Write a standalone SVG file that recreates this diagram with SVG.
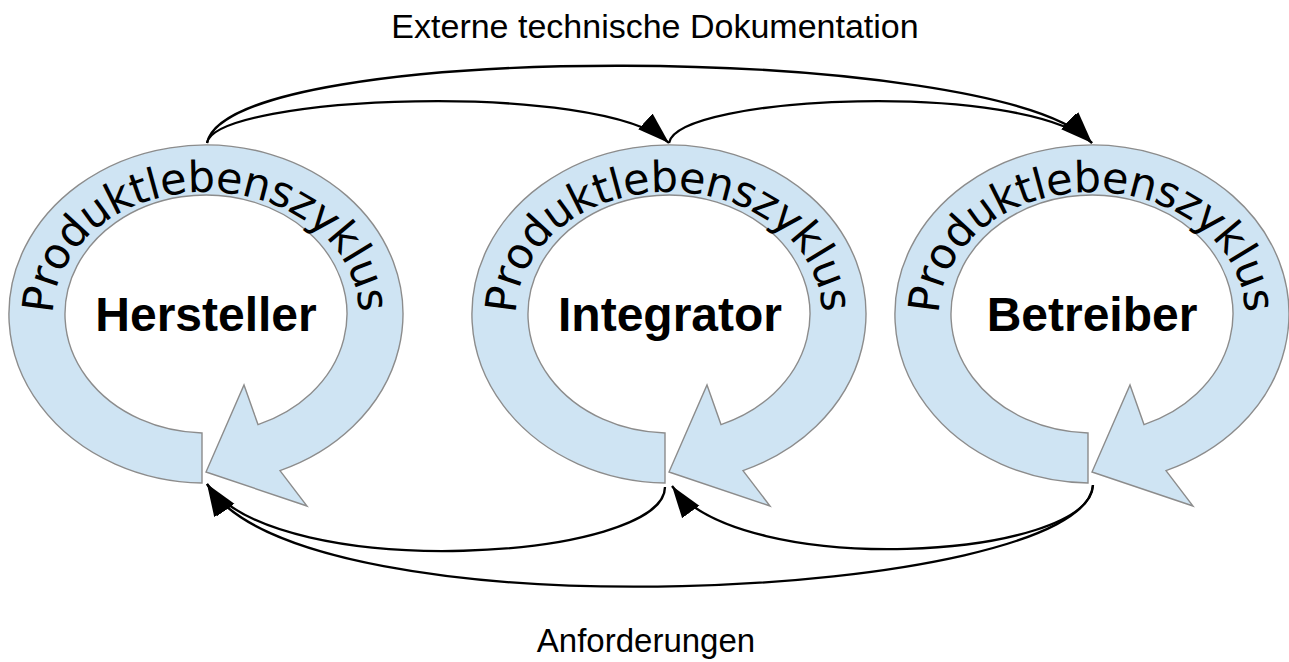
<svg xmlns="http://www.w3.org/2000/svg" xmlns:xlink="http://www.w3.org/1999/xlink" width="1289" height="662" viewBox="0 0 1289 662">
<style>
  .ring { fill: #cfe4f3; stroke: #8c8c8c; stroke-width: 1.4; stroke-linejoin: miter; }
  .cyc { font-family: "DejaVu Sans", "Liberation Sans", sans-serif; font-size: 43px; letter-spacing: -0.5px; fill: #000; }
  .name { font-family: "Liberation Sans", Arial, sans-serif; font-weight: bold; font-size: 48px; text-anchor: middle; fill: #000; }
  .lbl { font-family: "Liberation Sans", Arial, sans-serif; font-size: 33px; text-anchor: middle; fill: #000; }
  .ttl { font-size: 34px; }
  .con { fill: none; stroke: #000; stroke-width: 2.3; marker-end: url(#ah); }
</style>
<defs>
  <marker id="ah" markerUnits="userSpaceOnUse" markerWidth="32" markerHeight="22" viewBox="0 0 30 20" refX="30" refY="10" orient="auto">
    <path d="M0,0 L30,10 L0,20 Z" fill="#000"/>
  </marker>
  <path id="cyc" d="M-4,168.97 A197 169 0 1 1 74,156.6 L101,192 L0,158 L38,71 L52,110.6 A141 119 0 1 0 -4,118.95 Z"/>
  <path id="tp1" d="M53,314 A153 122 0 0 1 359,314 A153 122 0 0 1 53,314"/>
  <path id="tp2" d="M516,314 A153 122 0 0 1 822,314 A153 122 0 0 1 516,314"/>
  <path id="tp3" d="M939,314 A153 122 0 0 1 1245,314 A153 122 0 0 1 939,314"/>
</defs>
<rect width="1289" height="662" fill="#fff"/>

<g id="hersteller">
  <use xlink:href="#cyc" href="#cyc" class="ring" transform="translate(206,314)"/>
  <text class="cyc"><textPath xlink:href="#tp1" href="#tp1">Produktlebenszyklus</textPath></text>
  <text class="name" x="206" y="331">Hersteller</text>
</g>
<g id="integrator">
  <use xlink:href="#cyc" href="#cyc" class="ring" transform="translate(669,314)"/>
  <text class="cyc"><textPath xlink:href="#tp2" href="#tp2">Produktlebenszyklus</textPath></text>
  <text class="name" x="670" y="331">Integrator</text>
</g>
<g id="betreiber">
  <use xlink:href="#cyc" href="#cyc" class="ring" transform="translate(1092,314)"/>
  <text class="cyc"><textPath xlink:href="#tp3" href="#tp3">Produktlebenszyklus</textPath></text>
  <text class="name" x="1092" y="331">Betreiber</text>
</g>

<g id="connectors">
  <path class="con" d="M207,143 C215,95 600,80 669,143"/>
  <path class="con" d="M207,143 C230,38 1000,42 1092,143"/>
  <path class="con" d="M669,143 C677,95 1023,80 1092,143"/>
  <path class="con" d="M1093,485 C1090,560 740,580 672,486"/>
  <path class="con" d="M1093,485 C1085,600 300,640 207,484"/>
  <path class="con" d="M665,487 C665,560 280,585 207,484"/>
</g>

<g id="labels">
  <text class="lbl ttl" x="655" y="38">Externe technische Dokumentation</text>
  <text class="lbl" x="646" y="652">Anforderungen</text>
</g>
</svg>
